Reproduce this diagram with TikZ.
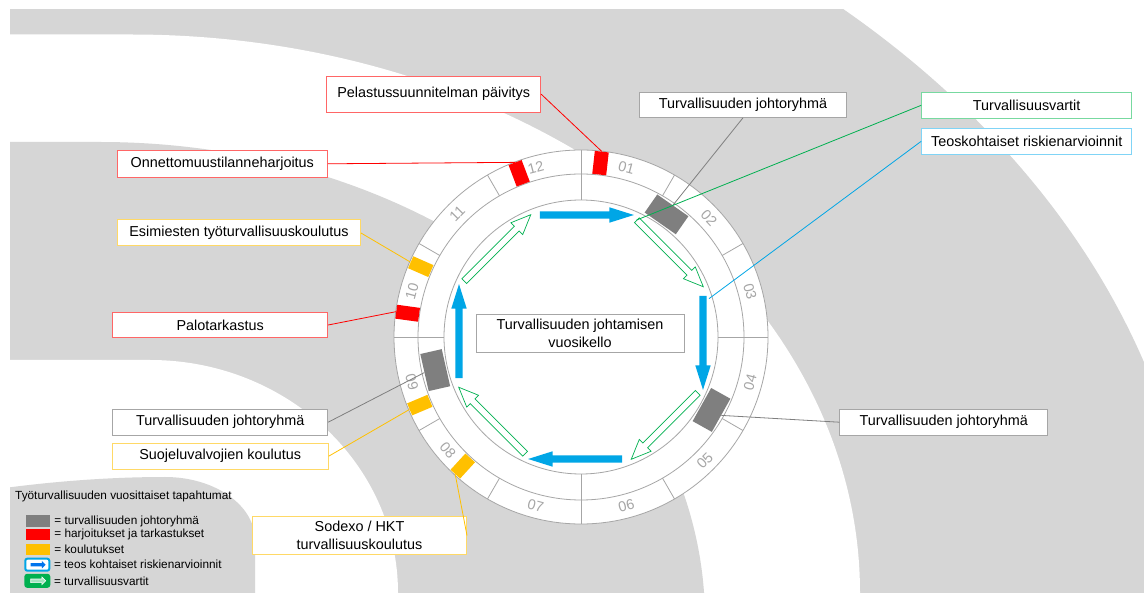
\documentclass[tikz,border=0pt]{standalone}
\usepackage{fontspec}
\setmainfont{Liberation Sans}
\usetikzlibrary{positioning,shapes.arrows}

\definecolor{bandgrey}{HTML}{D6D6D6}
\definecolor{ringgrey}{HTML}{A6A6A6}
\definecolor{tagred}{HTML}{FF0000}
\definecolor{tagorange}{HTML}{FFC000}
\definecolor{taggrey}{HTML}{7F7F7F}
\definecolor{arrowblue}{HTML}{00A6E6}
\definecolor{arrowgreen}{HTML}{00B050}
\definecolor{boxred}{HTML}{FF6666}
\definecolor{boxorange}{HTML}{FFD966}
\definecolor{boxgreen}{HTML}{77D9A0}
\definecolor{boxblue}{HTML}{80D4F6}

\tikzset{
  callout/.style={rectangle, draw=#1, fill=white, line width=1pt, inner sep=0pt,
    minimum height=26pt, align=center, font=\fontsize{14.4}{17.3}\selectfont},
  callout/.default=ringgrey,
  monthnr/.style={text=ringgrey, inner sep=0pt, font=\fontsize{14.4}{17}\selectfont},
  ringline/.style={draw=ringgrey, line width=0.8pt},
  redtag/.style={rectangle, fill=tagred, minimum width=14pt, minimum height=23pt, inner sep=0pt},
  orangetag/.style={rectangle, fill=tagorange, minimum width=13pt, minimum height=22pt, inner sep=0pt},
  greytag/.style={rectangle, fill=taggrey, minimum width=38pt, minimum height=22pt, inner sep=0pt},
  bluearrow/.style={single arrow, fill=arrowblue, inner sep=3.5pt, minimum height=94pt,
    single arrow head extend=4pt, single arrow tip angle=35},
  greenarrow/.style={single arrow, draw=arrowgreen, fill=white, line width=0.7pt, inner sep=3pt,
    minimum height=94pt, single arrow head extend=5pt, single arrow tip angle=46},
  leader/.style={draw=#1, line width=0.8pt},
  legendkey/.style={rectangle, minimum width=24pt, minimum height=11.5pt, inner sep=0pt},
  legendtext/.style={inner sep=0pt, font=\fontsize{11.8}{14}\selectfont},
}

\begin{document}
\begin{tikzpicture}[x=1pt,y=-1pt]
\useasboundingbox (0,0) rectangle (1144,593);
% grey bands in the background
\begin{scope}
\clip (10,10) rectangle (1144,593);
\fill[bandgrey] (100,620) ellipse[x radius=1098pt, y radius=830pt];
\fill[white] (-10,34.5) -- (131,34.5) arc[start angle=90, end angle=0, x radius=729pt, y radius=558.5pt] -- (860,700) -- (-10,700) -- cycle;
\fill[bandgrey] (-10,142) -- (100,142) arc[start angle=90, end angle=0, x radius=605pt, y radius=478pt] -- (705,700) -- (-10,700) -- cycle;
\fill[white] (-10,360) -- (150,360) arc[start angle=90, end angle=0, x radius=248pt, y radius=233pt] -- (398,700) -- (-10,700) -- cycle;
\fill[bandgrey] (-10,490) .. controls (60,480) and (120,477) .. (165,477) arc[start angle=90, end angle=0, x radius=90pt, y radius=63pt] -- (255,700) -- (-10,700) -- cycle;
\end{scope}

% the clock
\node[shape=coordinate] at (581,337) (C) {};
\fill[white] (C) circle[radius=187pt];
\draw[ringline] (C) circle[radius=187pt] (C) circle[radius=163pt] (C) circle[radius=137pt];
\draw[ringline] ([shift={(90:137pt)}]C) -- ([shift={(90:187pt)}]C);
\draw[ringline] ([shift={(0:137pt)}]C) -- ([shift={(0:187pt)}]C);
\draw[ringline] ([shift={(-90:137pt)}]C) -- ([shift={(-90:187pt)}]C);
\draw[ringline] ([shift={(180:137pt)}]C) -- ([shift={(180:187pt)}]C);
\draw[ringline] ([shift={(60:163pt)}]C) -- ([shift={(60:187pt)}]C);
\draw[ringline] ([shift={(30:163pt)}]C) -- ([shift={(30:187pt)}]C);
\draw[ringline] ([shift={(-30:163pt)}]C) -- ([shift={(-30:187pt)}]C);
\draw[ringline] ([shift={(-60:163pt)}]C) -- ([shift={(-60:187pt)}]C);
\draw[ringline] ([shift={(-120:163pt)}]C) -- ([shift={(-120:187pt)}]C);
\draw[ringline] ([shift={(-150:163pt)}]C) -- ([shift={(-150:187pt)}]C);
\draw[ringline] ([shift={(150:163pt)}]C) -- ([shift={(150:187pt)}]C);
\draw[ringline] ([shift={(120:163pt)}]C) -- ([shift={(120:187pt)}]C);

\node[monthnr, rotate=-15] at ([shift={(75:175pt)}]C) (m01) {01};
\node[monthnr, rotate=-47] at ([shift={(43:175pt)}]C) (m02) {02};
\node[monthnr, rotate=-75] at ([shift={(15:175pt)}]C) (m03) {03};
\node[monthnr, rotate=75] at ([shift={(-15:175pt)}]C) (m04) {04};
\node[monthnr, rotate=45] at ([shift={(-45:175pt)}]C) (m05) {05};
\node[monthnr, rotate=15] at ([shift={(-75:175pt)}]C) (m06) {06};
\node[monthnr, rotate=-15] at ([shift={(-105:175pt)}]C) (m07) {07};
\node[monthnr, rotate=-49.5] at ([shift={(-139.5:175pt)}]C) (m08) {08};
\node[monthnr, rotate=-75] at ([shift={(-165:175pt)}]C) (m09) {09};
\node[monthnr, rotate=75] at ([shift={(165:175pt)}]C) (m10) {10};
\node[monthnr, rotate=45] at ([shift={(135:175pt)}]C) (m11) {11};
\node[monthnr, rotate=15] at ([shift={(105:175pt)}]C) (m12) {12};

% events on the ring
\node[redtag, rotate=-6.4] at ([shift={(83.6:175pt)}]C) (r01) {};
\node[redtag, rotate=20.7] at ([shift={(110.7:175pt)}]C) (r12) {};
\node[redtag, rotate=82.2] at ([shift={(172.2:175pt)}]C) (r10) {};
\node[orangetag, rotate=66.3] at ([shift={(156.3:175pt)}]C) (o10) {};
\node[orangetag, rotate=-247.1] at ([shift={(-157.1:175pt)}]C) (o09) {};
\node[orangetag, rotate=-222.5] at ([shift={(-132.5:175pt)}]C) (o08) {};
\node[greytag, rotate=-34.9] at ([shift={(55.1:149.5pt)}]C) (g02) {};
\node[greytag, rotate=-119.2] at ([shift={(-29.2:149.5pt)}]C) (g04) {};
\node[greytag, rotate=-257.2] at ([shift={(-167.2:149.5pt)}]C) (g09) {};

% arrows inside
\node[bluearrow] at ([shift={(90:122pt)}]C) (b1) {};
\node[bluearrow, rotate=-90] at ([shift={(0:122pt)}]C) (b2) {};
\node[bluearrow, rotate=180] at ([shift={(-90:122pt)}]C) (b3) {};
\node[bluearrow, rotate=90] at ([shift={(180:122pt)}]C) (b4) {};
\node[greenarrow, rotate=-45] at ([shift={(45:122pt)}]C) (v1) {};
\node[greenarrow, rotate=-135] at ([shift={(-45:122pt)}]C) (v2) {};
\node[greenarrow, rotate=135] at ([shift={(-135:122pt)}]C) (v3) {};
\node[greenarrow, rotate=45] at ([shift={(135:122pt)}]C) (v4) {};

\node[callout, minimum width=208pt, minimum height=38pt] at (580,333.5) (otsikko) {Turvallisuuden johtamisen\\vuosikello};

% callouts
\node[callout=boxred, minimum width=214pt, minimum height=36pt] at (433.7,94.2) (pelastus) {Pelastussuunnitelman päivitys};
\node[callout=boxred, minimum width=210pt, minimum height=27.5pt] at (222.3,163.8) (onnettomuus) {Onnettomuustilanneharjoitus};
\node[callout=boxorange, minimum width=243pt] at (239,233) (esimies) {Esimiesten työturvallisuuskoulutus};
\node[callout=boxred, minimum width=215pt, minimum height=25pt] at (220.2,325) (palo) {Palotarkastus};
\node[callout, minimum width=215pt] at (220.2,422.2) (johtoL) {Turvallisuuden johtoryhmä};
\node[callout=boxorange, minimum width=216pt, below=7pt of johtoL] (suojelu) {Suojeluvalvojien koulutus};
\node[callout=boxorange, minimum width=214pt, minimum height=37.5pt] at (359.5,535.5) (sodexo) {Sodexo / HKT\\turvallisuuskoulutus};
\node[callout, minimum width=207pt, minimum height=25pt] at (743,104.8) (johtoT) {Turvallisuuden johtoryhmä};
\node[callout=boxgreen, minimum width=210pt] at (1026.7,105.3) (vartit) {Turvallisuusvartit};
\node[callout=boxblue, minimum width=210pt, below=9pt of vartit] (teos) {Teoskohtaiset riskienarvioinnit};
\node[callout, minimum width=208pt] at (943.8,422.2) (johtoR) {Turvallisuuden johtoryhmä};

\draw[leader=tagred] (pelastus.east) -- (r01.north);
\draw[leader=tagred] (onnettomuus.east) -- (r12.north);
\draw[leader=tagred] (palo.east) -- (r10.north);
\draw[leader=tagorange] (esimies.east) -- (o10.north);
\draw[leader=tagorange] (suojelu.east) -- (o09.north);
\draw[leader=tagorange] (sodexo.east) -- (o08.north);
\draw[leader=taggrey] (johtoL.east) -- (g09.north);
\draw[leader=taggrey] (johtoT.south) -- (g02.north);
\draw[leader=taggrey] (johtoR.west) -- (g04.north);
\draw[leader=arrowgreen] (vartit.west) -- (v1.tail);
\draw[leader=arrowblue] (teos.west) -- ([shift={(6,3)}]b2.tail);

% legend
\node[legendtext, anchor=west] at (15,496) (ltitle) {Työturvallisuuden vuosittaiset tapahtumat};
\node[legendkey, fill=taggrey] at (37.5,521) (kgrey) {};
\node[legendkey, fill=tagred] at (38,534.3) (kred) {};
\node[legendkey, fill=tagorange] at (38,549.5) (korange) {};
\node[legendkey, rounded corners=2pt, draw=arrowblue, line width=2pt, fill=white, minimum width=24pt, minimum height=12pt] at (37.3,564.7) (kblue) {};
\node[single arrow, fill=arrowblue!70!blue, inner sep=1.5pt, minimum height=15pt, single arrow head extend=2pt] at (kblue) (kbluearrow) {};
\node[legendkey, rounded corners=2pt, draw=arrowgreen, line width=2pt, fill=arrowgreen, minimum width=24pt, minimum height=12pt] at (37.3,580.8) (kgreen) {};
\node[single arrow, draw=white, fill=arrowgreen!35, line width=0.6pt, inner sep=1.5pt, minimum height=15pt, single arrow head extend=2pt] at (kgreen) (kgreenarrow) {};
\node[legendtext, right=4.5pt of kgrey] (tgrey) {= turvallisuuden johtoryhmä};
\node[legendtext, right=4pt of kred] (tred) {= harjoitukset ja tarkastukset};
\node[legendtext, right=4pt of korange] (torange) {= koulutukset};
\node[legendtext, right=3.5pt of kblue] (tblue) {= teos kohtaiset riskienarvioinnit};
\node[legendtext, right=3.5pt of kgreen] (tgreen) {= turvallisuusvartit};
\end{tikzpicture}
\end{document}
